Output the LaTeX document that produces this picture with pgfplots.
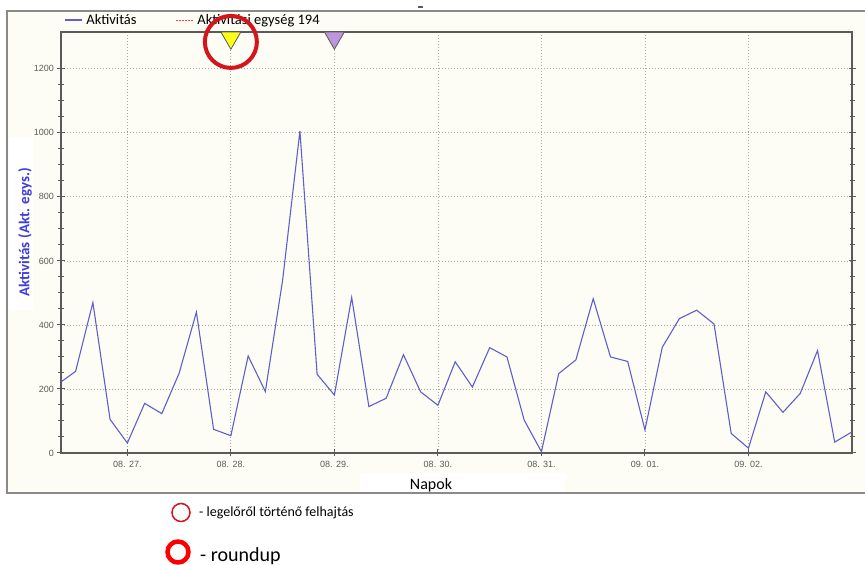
\documentclass[border=0pt]{standalone}
\usepackage{fontspec}
\setmainfont{Carlito}
\newfontfamily\arialf{Liberation Sans}
\usepackage{pgfplots}
\pgfplotsset{compat=1.18}
\definecolor{cream}{HTML}{FDFDF6}
\definecolor{linebl}{HTML}{5F5FCC}
\definecolor{labbl}{HTML}{3D3DDB}
\definecolor{tickgr}{HTML}{5A5A5A}
\definecolor{framegr}{HTML}{8A8A8A}
\definecolor{ringred}{HTML}{D4151C}
\definecolor{evyel}{HTML}{FFFF1A}
\definecolor{evpur}{HTML}{BE96DC}

\begin{document}
\begin{tikzpicture}[x=1pt,y=1pt]
\fill[white] (0,0) rectangle (865,565);
\fill[cream] (7,72) rectangle (865,554);
\draw[framegr, line width=1.5pt] (865,72) -- (7,72) -- (7,554) -- (865,554);
\fill[tickgr] (418,557) rectangle (423,559);
% white patches behind axis labels
\fill[white] (9,255) rectangle (33,428);
\fill[white] (360,73) rectangle (565,92);

\begin{axis}[
  at={(61pt,112pt)}, anchor=south west,
  scale only axis, width=791pt, height=421pt,
  xmin=26.359, xmax=34, ymin=0, ymax=1315,
  clip=false,
  xtick={27,...,33},
  xticklabels={08. 27., 08. 28., 08. 29., 08. 30., 08. 31., 09. 01., 09. 02.},
  ytick={0,200,...,1200},
  minor y tick num=3,
  xtick pos=lower,
  tick align=center,
  major tick length=7pt, minor tick length=5pt,
  grid=major,
  major grid style={dash pattern=on 1pt off 2pt, gray!70, line width=0.8pt},
  axis line style={tickgr, line width=1.2pt},
  every tick/.style={tickgr, line width=1pt},
  tick label style={font=\arialf\fontsize{9}{10}\selectfont, text=tickgr},
  xticklabel style={yshift=-1.5pt},
  /pgf/number format/assume math mode=true,
  /pgf/number format/1000 sep={},
  legend style={draw=none, fill=none, at={(axis description cs:0.0,1.0285)},
    anchor=west, legend columns=2, font=\fontsize{14.5}{16}\selectfont,
    /tikz/every odd column/.append style={column sep=2pt},
    /tikz/every even column/.append style={column sep=37pt}},
]
\addplot[linebl, line width=1.1pt] coordinates {
  (26.359,222) (26.5,255) (26.667,470) (26.833,105)
  (27,31) (27.167,155) (27.333,123) (27.5,249) (27.667,440) (27.833,74)
  (28,54) (28.167,303) (28.333,192) (28.5,540) (28.667,1006) (28.833,246)
  (29,181) (29.167,486) (29.333,145) (29.5,171) (29.667,307) (29.833,191)
  (30,149) (30.167,285) (30.333,206) (30.5,329) (30.667,300) (30.833,103)
  (31,4) (31.167,248) (31.333,291) (31.5,482) (31.667,300) (31.833,286)
  (32,72) (32.167,330) (32.333,420) (32.5,446) (32.667,403) (32.833,61)
  (33,15) (33.167,191) (33.333,127) (33.5,186) (33.667,320) (33.833,34)
  (34,66)
};
\addlegendentry{Aktivitás}
\addlegendimage{red!75, dash pattern=on 2pt off 1pt, line width=0.8pt}
\addlegendentry{Aktivitási egység 194}
\addplot[forget plot, only marks, mark=triangle*, mark size=11.5pt,
  mark options={rotate=180, fill=evyel, draw=gray!70!black, line width=0.8pt}]
  coordinates {(28,1297)};
\addplot[forget plot, only marks, mark=triangle*, mark size=11.5pt,
  mark options={rotate=180, fill=evpur, draw=gray!70!black, line width=0.8pt}]
  coordinates {(29,1297)};
\coordinate (ring) at (axis cs:28,1284);
\end{axis}

\draw[ringred, line width=4pt] (ring) circle [radius=26];

\node[rotate=90, text=labbl, font=\bfseries\fontsize{15}{17}\selectfont, inner sep=0pt]
  at (25,333) {Aktivitás (Akt. egys.)};
\node[font=\fontsize{16}{18}\selectfont, inner sep=0pt] at (431,80) {Napok};

\draw[ringred, line width=1.5pt] (181,52.5) circle [radius=9];
\node[anchor=base west, inner sep=0pt, font=\fontsize{14}{16}\selectfont] at (199,48) {- legelőről történő felhajtás};
\draw[red, line width=4.5pt] (178,13) circle [radius=10.5];
\node[anchor=base west, inner sep=0pt, font=\fontsize{20}{22}\selectfont] at (200,3.5) {- roundup};

\pgfresetboundingbox
\useasboundingbox (0,0) rectangle (865,565);
\end{tikzpicture}
\end{document}
